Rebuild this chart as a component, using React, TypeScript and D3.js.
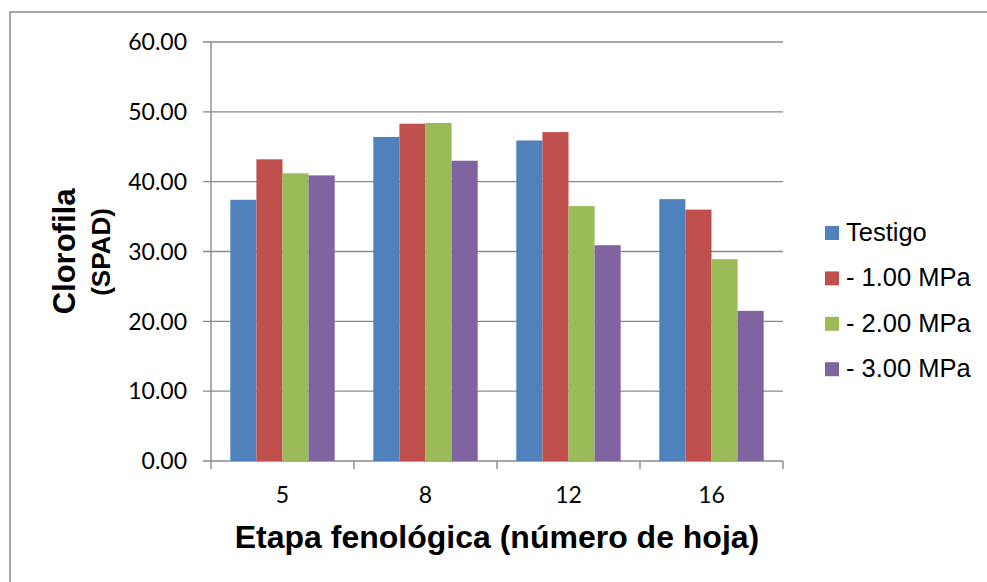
import React from "react";
import * as d3 from "d3";

const categories = ["5", "8", "12", "16"];
const seriesNames = ["Testigo", "- 1.00 MPa", "- 2.00 MPa", "- 3.00 MPa"];
const testigo = [37.4, 46.4, 45.9, 37.5];
const mpa1 = [43.2, 48.3, 47.1, 36.0];
const mpa2 = [41.2, 48.4, 36.5, 28.9];
const mpa3 = [40.9, 43.0, 30.9, 21.5];
const seriesValues = [testigo, mpa1, mpa2, mpa3];
const colors = ["#4F81BD", "#C0504D", "#9BBB59", "#8064A2"];
const yTicks = [0, 10, 20, 30, 40, 50, 60];

export default function App() {
  const W = 987, H = 582;
  const left = 211, right = 783, top = 42, bottom = 461;
  const x0 = d3.scaleBand<string>().domain(categories).range([left, right]).paddingInner(0).paddingOuter(0);
  const x1 = d3.scaleBand<string>().domain(seriesNames).range([0, x0.bandwidth()]).paddingInner(0).paddingOuter(0.74);
  const y = d3.scaleLinear().domain([0, 60]).range([bottom, top]);
  const grid = "#8a8a8a";
  const catTicks = [...categories.map((c) => x0(c) as number), right];

  return (
    <svg width={W} height={H} style={{ position: "absolute", left: 0, top: 0, background: "#fff" }}>
      <rect x={10} y={12} width={1100} height={700} fill="#fff" stroke={grid} strokeWidth={1.5} />
      {yTicks.map((t) => (
        <g key={t}>
          <line x1={203} x2={right} y1={y(t)} y2={y(t)} stroke={grid} strokeWidth={1.4} />
          <text x={187} y={y(t)} dy="0.36em" textAnchor="end" fontFamily="Lato, 'Open Sans', sans-serif" fontSize={23} fill="#000">
            {t.toFixed(2)}
          </text>
        </g>
      ))}
      <line x1={left} x2={left} y1={top} y2={bottom} stroke={grid} strokeWidth={1.4} />
      {catTicks.map((cx, i) => (
        <line key={i} x1={cx} x2={cx} y1={bottom} y2={bottom + 8} stroke={grid} strokeWidth={1.4} />
      ))}
      {categories.map((c, ci) => (
        <g key={c}>
          {seriesNames.map((s, si) => {
            const v = seriesValues[si][ci];
            return (
              <rect
                key={s}
                x={(x0(c) as number) + (x1(s) as number)}
                y={y(v)}
                width={x1.bandwidth()}
                height={y(0) - y(v)}
                fill={colors[si]}
              />
            );
          })}
          <text x={(x0(c) as number) + x0.bandwidth() / 2} y={503} textAnchor="middle" fontFamily="Lato, 'Open Sans', sans-serif" fontSize={23} fill="#000">
            {c}
          </text>
        </g>
      ))}
      <text x={497} y={548} textAnchor="middle" fontFamily="'Liberation Sans', Arial, sans-serif" fontWeight="bold" fontSize={32} fill="#000">
        Etapa fenológica (número de hoja)
      </text>
      <text transform="translate(75,251.5) rotate(-90)" textAnchor="middle" fontFamily="'Liberation Sans', Arial, sans-serif" fontWeight="bold" fontSize={31} fill="#000">
        Clorofila
      </text>
      <text transform="translate(110,252) rotate(-90)" textAnchor="middle" fontFamily="'Liberation Sans', Arial, sans-serif" fontWeight="bold" fontSize={26} fill="#000">
        (SPAD)
      </text>
      {seriesNames.map((s, i) => {
        const cy = 233 + i * 45.4;
        return (
          <g key={s}>
            <rect x={825} y={cy - 7} width={14} height={14} fill={colors[i]} />
            <text x={846} y={cy + 8} fontFamily="'Liberation Sans', Arial, sans-serif" fontSize={25.5} fill="#000">
              {s}
            </text>
          </g>
        );
      })}
    </svg>
  );
}
